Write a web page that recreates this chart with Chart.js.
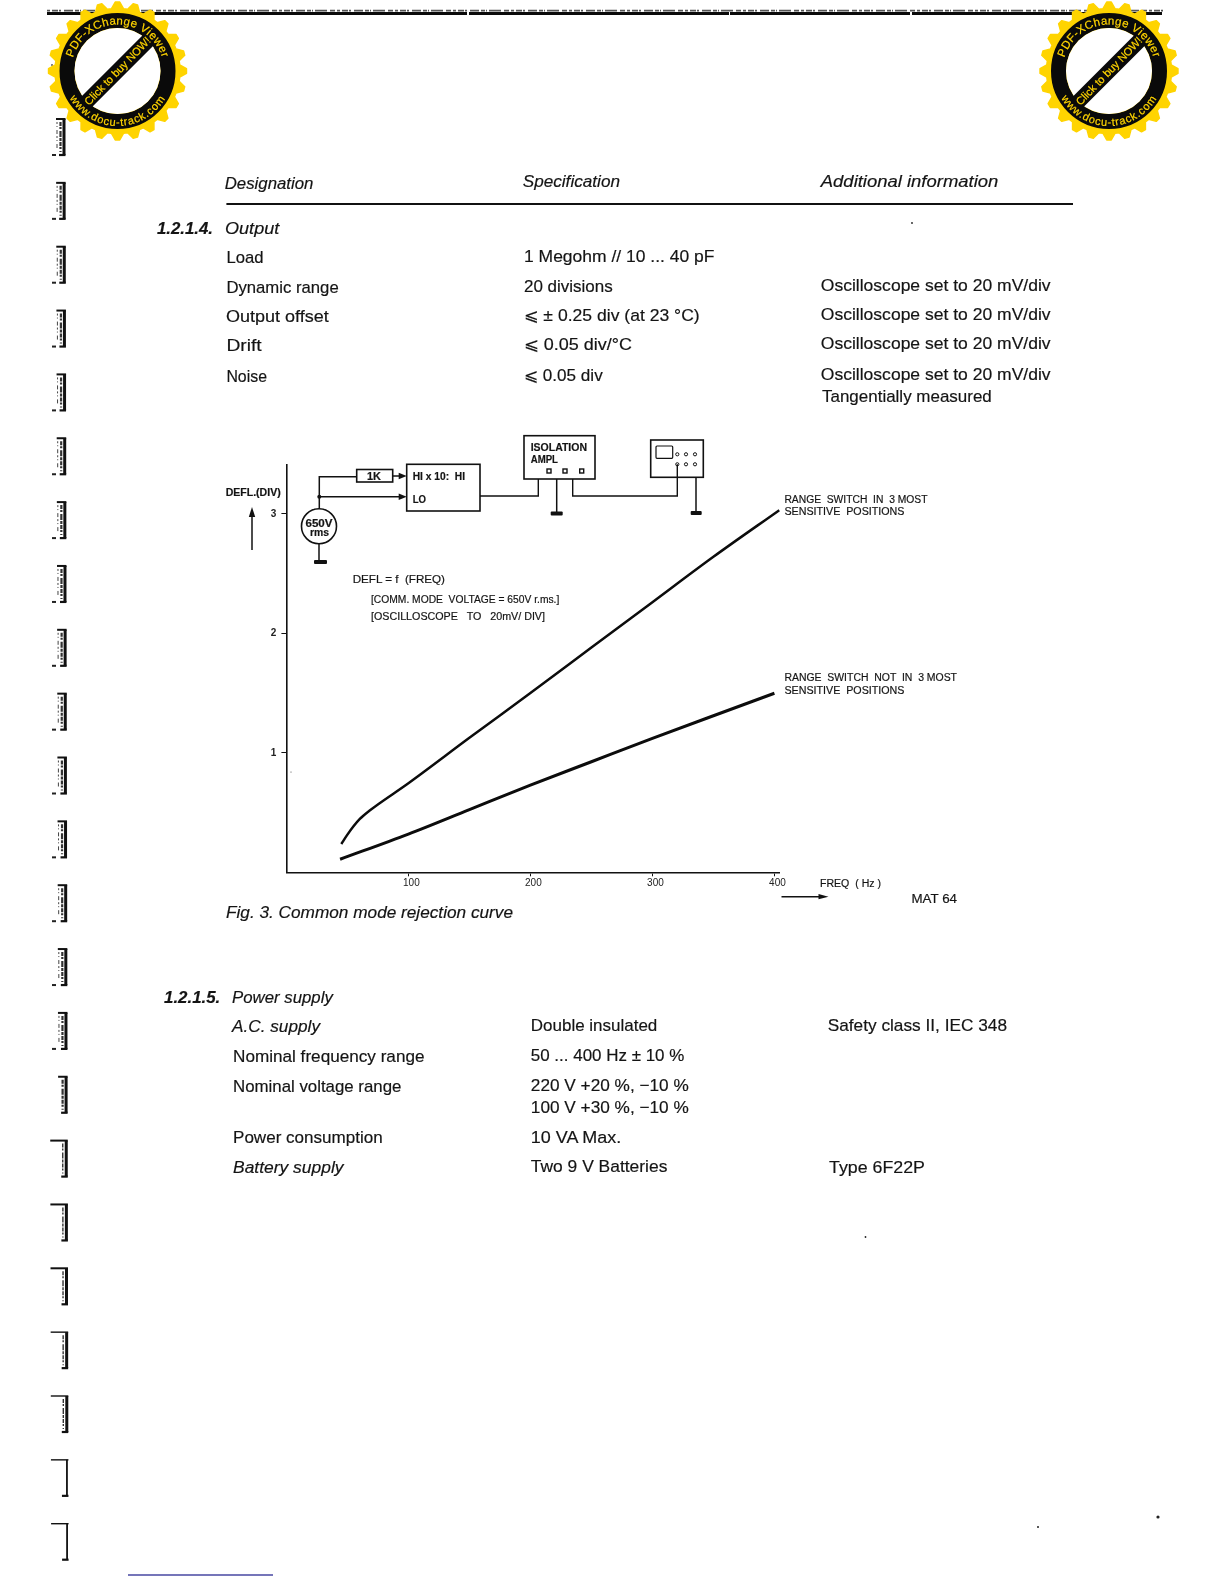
<!DOCTYPE html>
<html><head><meta charset="utf-8">
<style>
html,body{margin:0;padding:0;background:#fff;width:1224px;height:1584px;overflow:hidden}
#chart{position:absolute;left:0;top:0}
#page{position:absolute;left:0;top:0}
text{font-family:"Liberation Sans",Arial,sans-serif;fill:#141414;stroke:#141414;stroke-width:.18}
</style>
<script src="https://cdn.jsdelivr.net/npm/chart.js@4"></script>
</head><body>
<canvas id="chart" width="1224" height="1584"></canvas>
<svg id="page" width="1224" height="1584" viewBox="0 0 1224 1584" xmlns="http://www.w3.org/2000/svg"></svg>
<script>
// ---- chart data ----
const xTickValues = [100, 200, 300, 400];
const yTickValues = [1, 2, 3];
const upperFreq = [45, 50, 55, 60, 68, 100, 150, 200, 250, 300, 350, 404];
const upperDefl = [0.237, 0.315, 0.385, 0.445, 0.515, 0.745, 1.125, 1.50, 1.88, 2.26, 2.64, 3.03];
const lowerFreq = [44, 100, 150, 200, 250, 300, 350, 400];
const lowerDefl = [0.109, 0.32, 0.525, 0.73, 0.925, 1.12, 1.31, 1.498];
const upperName = "RANGE SWITCH IN 3 MOST SENSITIVE POSITIONS";
const lowerName = "RANGE SWITCH NOT IN 3 MOST SENSITIVE POSITIONS";

const toPts = (xs, ys) => xs.map((x, i) => ({x, y: ys[i]}));
new Chart(document.getElementById('chart'), {
  type: 'line',
  data: {datasets: [
    {label: upperName, data: toPts(upperFreq, upperDefl), borderColor: '#0c0c0c', borderWidth: 2.5, pointRadius: 0, cubicInterpolationMode: 'monotone', fill: false},
    {label: lowerName, data: toPts(lowerFreq, lowerDefl), borderColor: '#0c0c0c', borderWidth: 3, pointRadius: 0, cubicInterpolationMode: 'monotone', fill: false}
  ]},
  options: {
    responsive: false, animation: false, devicePixelRatio: 1,
    layout: {padding: {left: 0, top: 465, right: 444.1, bottom: 0}},
    plugins: {legend: {display: false}, tooltip: {enabled: false}, title: {display: false}},
    scales: {
      x: {type: 'linear', min: 0, max: 404.5,
        afterBuildTicks: s => { s.ticks = xTickValues.map(v => ({value: v})); },
        afterFit: s => { s.height = 1584 - 872.3; },
        grid: {drawOnChartArea: false, drawTicks: true, tickLength: 4, color: '#111'},
        border: {display: true, color: '#111', width: 1.6},
        ticks: {color: '#222', font: {family: '"Liberation Sans"', size: 10}, padding: 1, labelOffset: 3, maxRotation: 0, autoSkip: false}
      },
      y: {type: 'linear', min: 0, max: 3.408,
        afterBuildTicks: s => { s.ticks = yTickValues.map(v => ({value: v})); },
        afterFit: s => { s.width = 286.4; },
        grid: {drawOnChartArea: false, drawTicks: true, tickLength: 5, color: '#111'},
        border: {display: true, color: '#111', width: 1.6},
        ticks: {color: '#222', font: {family: '"Liberation Sans"', size: 10, weight: 'bold'}, padding: 5, autoSkip: false}
      }
    }
  }
});

// ---- page furniture around the chart ----
const svg = document.getElementById('page');
const NS = 'http://www.w3.org/2000/svg';
function el(name, attrs, parent, content) {
  const e = document.createElementNS(NS, name);
  for (const k in attrs) e.setAttribute(k, attrs[k]);
  if (content !== undefined) e.textContent = content;
  (parent || svg).appendChild(e);
  return e;
}
function t(x0, x1, cy, str, o) {
  o = o || {};
  const size = o.size || 17;
  el('text', {x: x0, y: cy + size * 0.36, textLength: x1 - x0, lengthAdjust: 'spacingAndGlyphs',
    'font-size': size, 'font-style': o.italic ? 'italic' : 'normal', 'font-weight': o.bold ? 'bold' : 'normal',
    style: 'white-space:pre'}, svg, str);
}
function line(pts, w, c, extra) {
  el('polyline', Object.assign({points: pts.map(p => p.join(',')).join(' '), fill: 'none', stroke: c || '#111', 'stroke-width': w || 1.4}, extra || {}));
}
function rect(x, y, w, h, sw) {
  el('rect', {x, y, width: w, height: h, fill: 'none', stroke: '#111', 'stroke-width': sw || 1.6});
}
function bar(x0, x1, y, h) { el('rect', {x: x0, y: y - h / 2, width: x1 - x0, height: h, fill: '#111', rx: 1}); }
function tri(x, y, dir, len, hw) {
  const p = dir === 'r' ? [[x, y], [x - len, y - hw], [x - len, y + hw]] : [[x, y], [x - hw, y + len], [x + hw, y + len]];
  el('polygon', {points: p.map(a => a.join(',')).join(' '), fill: '#111'});
}

// top scan rule
line([[47, 13.4], [1163, 13.4]], 3, '#0a0a0a', {'stroke-dasharray': '420 2 260 1 180 2 250'});
line([[47, 10.6], [1163, 10.6]], 1.8, '#555', {'stroke-dasharray': '3 2 6 1 2 3 9 2 4 1 1 2 12 3 5 2'});
line([[52, 64], [52, 76]], 1.2, '#333', {'stroke-dasharray': '2 2'});
line([[50, 87.5], [55, 87.5]], 2, '#333');

// binding marks down the left edge
for (let i = 0; i < 23; i++) {
  const y = 119 + 63.85 * i, left = i < 15 ? 52 : 47 + (22 - i) * 0.4, x = 64 + i * 0.14;
  line([[x - 8 + (i > 15 ? -8 : 0), y], [x + 1.5, y]], i > 18 ? 1.4 : 2);
  line([[x, y], [x, y + 36]], i > 20 ? 1.8 : 3);
  line([[x - 5, y + 36], [x + 1.5, y + 36]], 2.2);
  if (i < 21) {
    line([[x - 3.5, y + 3], [x - 3.5, y + 33]], i < 16 ? 2.2 : 1.4, '#333', {'stroke-dasharray': '4 1 2 2 6 1 3 1'});
  }
  if (i < 15) {
    line([[x - 7, y + 3], [x - 7, y + 30]], 1, '#444', {'stroke-dasharray': '2 2 1 3 4 2'});
    line([[left, y + 36], [left + 4, y + 36]], 2, '#222');
  }
}

// specks and scan line
for (const [x, y, r] of [[1158, 1517, 1.6], [1038, 1527, 1], [865.5, 1237, 0.9], [291, 772, 0.5], [912, 223, 0.9]]) {
  el('circle', {cx: x, cy: y, r, fill: '#222'});
}
el('rect', {x: 128, y: 1574.4, width: 145, height: 1.2, fill: '#1c1c8c'});

// page text
t(224.7, 313.4, 182.7, 'Designation', {italic: true});
t(522.7, 620, 180.7, 'Specification', {italic: true});
t(820.8, 998.3, 180.7, 'Additional information', {italic: true});
line([[226.4, 204], [1073, 204]], 1.8);

t(157, 213, 228, '1.2.1.4.', {italic: true, bold: true});
t(225, 279.3, 228, 'Output', {italic: true});
t(226.4, 263.5, 257, 'Load');
t(524, 714.4, 256, '1 Megohm // 10 ... 40 pF');
t(226.4, 338.7, 286.7, 'Dynamic range');
t(524, 612.7, 285.7, '20 divisions');
t(820.8, 1050.6, 285, 'Oscilloscope set to 20 mV/div');
t(226, 328.7, 316, 'Output offset');
t(524, 699.7, 315, '⩽ ± 0.25 div (at 23 °C)');
t(820.8, 1050.6, 314.3, 'Oscilloscope set to 20 mV/div');
t(226.4, 261.7, 345.3, 'Drift');
t(524, 632, 344.3, '⩽ 0.05 div/°C');
t(820.8, 1050.6, 343.3, 'Oscilloscope set to 20 mV/div');
t(226.4, 267, 376, 'Noise');
t(524, 602.7, 375, '⩽ 0.05 div');
t(820.8, 1050.6, 373.7, 'Oscilloscope set to 20 mV/div');
t(822, 991.8, 396, 'Tangentially measured');

t(226, 513, 912, 'Fig. 3. Common mode rejection curve', {italic: true});

t(164, 220.3, 996.7, '1.2.1.5.', {italic: true, bold: true});
t(232, 332.8, 996.7, 'Power supply', {italic: true});
t(232, 320, 1026, 'A.C. supply', {italic: true});
t(530.8, 657.3, 1025.3, 'Double insulated');
t(827.7, 1007, 1025.3, 'Safety class II, IEC 348');
t(233, 424.5, 1056, 'Nominal frequency range');
t(530.8, 684.3, 1055, '50 ... 400 Hz ± 10 %');
t(233, 401.4, 1085.7, 'Nominal voltage range');
t(530.8, 688.8, 1084.7, '220 V +20 %, −10 %');
t(530.8, 688.8, 1107, '100 V +30 %, −10 %');
t(233, 382.8, 1137.3, 'Power consumption');
t(530.8, 621.3, 1136.5, '10 VA Max.');
t(233, 343.5, 1166.7, 'Battery supply', {italic: true});
t(530.8, 667.4, 1166, 'Two 9 V Batteries');
t(829, 925, 1167, 'Type 6F22P');

// diagram labels
const s10 = {size: 10};
const s10b = {size: 10, bold: true};
t(225.7, 280.7, 492.7, 'DEFL.(DIV)', s10b);
t(352.7, 445, 579.3, 'DEFL = f  (FREQ)', s10);
t(371, 559.3, 599.3, '[COMM. MODE  VOLTAGE = 650V r.ms.]', s10);
t(371, 545, 616.7, '[OSCILLOSCOPE   TO   20mV/ DIV]', s10);
t(784.4, 927.5, 499, 'RANGE  SWITCH  IN  3 MOST', s10);
t(784.4, 904.5, 511, 'SENSITIVE  POSITIONS', s10);
t(784.4, 957, 677.3, 'RANGE  SWITCH  NOT  IN  3 MOST', s10);
t(784.4, 904.5, 690.3, 'SENSITIVE  POSITIONS', s10);
t(820, 881, 883, 'FREQ  ( Hz )', s10);
t(911.5, 957, 898.7, 'MAT 64', {size: 12});

// axis arrows
line([[252, 550], [252, 512]], 1.5); tri(252, 507, 'u', 10, 3.2);
line([[781.5, 896.7], [820, 896.7]], 1.5); tri(828.5, 896.7, 'r', 10, 2.6);

// schematic
line([[319.3, 509], [319.3, 476.7], [356.7, 476.7]], 1.5);
rect(356.7, 469.5, 36, 12.5);
t(367, 381, 476, '1K', s10b);
line([[392.7, 476], [400, 476]], 1.5); tri(406.7, 476, 'r', 8, 3.2);
line([[319.3, 496.7], [400, 496.7]], 1.5); tri(406.7, 496.7, 'r', 8, 3.2);
el('circle', {cx: 319.3, cy: 496.7, r: 2, fill: '#111'});
rect(406.7, 464.3, 73.3, 46.7);
t(412.7, 465, 476.7, 'HI x 10:  HI', s10b);
t(412.7, 426, 499, 'LO', s10b);
el('circle', {cx: 319, cy: 526.3, r: 17.5, fill: '#fff', stroke: '#111', 'stroke-width': 1.6});
t(305.5, 332.5, 523, '650V', s10b);
t(310, 329, 532.8, 'rms', s10b);
line([[319, 544], [319, 561]], 1.5);
bar(314, 327, 562, 4);

line([[480, 496], [538.3, 496], [538.3, 479]], 1.4);
rect(524, 435.7, 71, 43.3);
t(530.7, 587, 447.3, 'ISOLATION', s10b);
t(530.7, 558, 459.3, 'AMPL', s10b);
for (const x of [549, 565, 581.7]) el('rect', {x: x - 2, y: 469, width: 4, height: 4, fill: 'none', stroke: '#111', 'stroke-width': 1.4});
line([[556.7, 479], [556.7, 513]], 1.5);
bar(550.7, 562.7, 513.5, 4);
line([[572.7, 479], [572.7, 496], [677.3, 496], [677.3, 464.3]], 1.4);
rect(650.7, 440, 52.6, 37.3);
el('rect', {x: 656, y: 446, width: 16.7, height: 12.3, fill: 'none', stroke: '#111', 'stroke-width': 1.2, rx: 1});
for (const x of [677.3, 686, 695]) for (const y of [454.3, 464.3]) el('circle', {cx: x, cy: y, r: 1.6, fill: 'none', stroke: '#111', 'stroke-width': 1});
line([[696, 477.3], [696, 512]], 1.5);
bar(690.7, 701.7, 513, 4);

// promotional seals
function seal(cx, cy, id) {
  const g = el('g', {transform: `translate(${cx},${cy})`});
  const teeth = 24;
  let d = '';
  for (let i = 0; i < teeth * 4; i++) {
    const a = (i / (teeth * 4)) * Math.PI * 2 - Math.PI / 2 - Math.PI / teeth * 0.25;
    const r = [69, 69, 62.5, 62.5][i % 4];
    d += (i ? 'L' : 'M') + (r * Math.cos(a)).toFixed(2) + ' ' + (r * Math.sin(a)).toFixed(2);
  }
  el('path', {d: d + 'Z', fill: '#ffd400', stroke: '#ffd400', 'stroke-width': 1.5, 'stroke-linejoin': 'round'}, g);
  el('circle', {r: 50.5, fill: 'none', stroke: '#0a0a0a', 'stroke-width': 15}, g);
  el('circle', {r: 43, fill: '#fff'}, g);
  el('line', {x1: -31, y1: 31, x2: 31, y2: -31, stroke: '#0a0a0a', 'stroke-width': 15}, g);
  const defs = el('defs', {}, g);
  el('path', {id: id + 't', d: 'M -46.5 0 A 46.5 46.5 0 0 1 46.5 0'}, defs);
  el('path', {id: id + 'b', d: 'M -55 0 A 55 55 0 0 0 55 0'}, defs);
  const mk = (pid, s, size, len) => {
    const tx = el('text', {'font-size': size, style: 'fill:#ffd400;stroke:#ffd400;stroke-width:.2', 'text-anchor': 'middle', 'letter-spacing': len}, g);
    el('textPath', {href: '#' + pid, startOffset: '50%'}, tx, s);
  };
  mk(id + 't', 'PDF-XChange Viewer', 11.5, 0.35);
  mk(id + 'b', 'www.docu-track.com', 11, 0.8);
  el('text', {'font-size': 11, 'text-anchor': 'middle', transform: 'rotate(-46) translate(0,3.8)', style: 'fill:#ffd400;stroke:#ffd400;stroke-width:.2'}, g, 'Click to buy NOW!');
}
seal(117.5, 71, 'sl');
seal(1109, 71, 'sr');
</script>
</body></html>
